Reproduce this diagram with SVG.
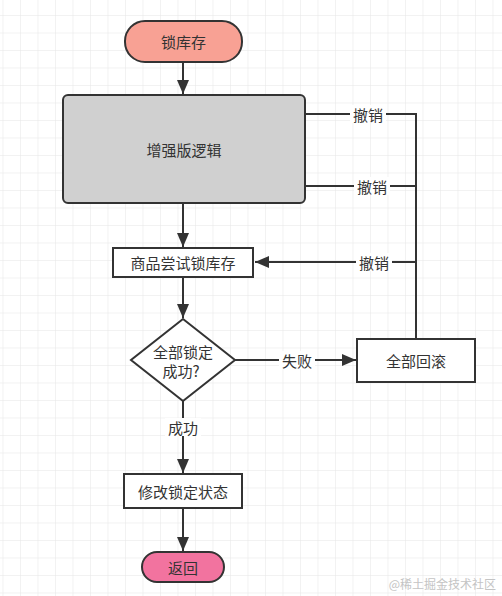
<svg xmlns="http://www.w3.org/2000/svg" width="502" height="596" viewBox="0 0 502 596">
<defs>
<pattern id="grid" patternUnits="userSpaceOnUse" x="2.5" y="15" width="17.5" height="17.5">
<path d="M0,0 H17.5 M0,0 V17.5" stroke="#e6e6e6" stroke-width="1" fill="none"/>
</pattern>
<marker id="arr" markerUnits="userSpaceOnUse" markerWidth="15" markerHeight="12" refX="14" refY="6" orient="auto">
<path d="M0,0 L14,6 L0,12 z" fill="#333"/>
</marker>
</defs>
<style>
.t{font-family:"Noto Sans CJK SC","Noto Sans",sans-serif;font-size:15px;fill:#333;text-anchor:middle;dominant-baseline:central}
.s{stroke:#333;stroke-width:2}
.c{fill:none;stroke:#333;stroke-width:2}
.bg{fill:#fff}
</style>
<rect width="502" height="596" fill="#fff"/>
<rect width="502" height="596" fill="url(#grid)"/>
<g id="connectors">
<path class="c" d="M183,62 V94" marker-end="url(#arr)"/>
<path class="c" d="M183,203 V247" marker-end="url(#arr)"/>
<path class="c" d="M183,277 V318" marker-end="url(#arr)"/>
<path class="c" d="M305,114 H416 V339"/>
<path class="c" d="M305,186 H416"/>
<path class="c" d="M416,262 H255" marker-end="url(#arr)"/>
<path class="c" d="M235,360 H356" marker-end="url(#arr)"/>
<path class="c" d="M183,401 V473" marker-end="url(#arr)"/>
<path class="c" d="M183,508 V551" marker-end="url(#arr)"/>
<rect class="bg" x="350" y="105" width="36" height="18"/>
<text class="t" x="368" y="114">撤销</text>
<rect class="bg" x="354" y="177" width="36" height="18"/>
<text class="t" x="372" y="186">撤销</text>
<rect class="bg" x="356" y="253" width="36" height="18"/>
<text class="t" x="374" y="262">撤销</text>
<rect class="bg" x="279" y="351" width="36" height="18"/>
<text class="t" x="297" y="360">失败</text>
<rect class="bg" x="165" y="418" width="36" height="18"/>
<text class="t" x="183" y="427">成功</text>
</g>
<g id="n-lock">
<rect x="125" y="21" width="117" height="41" rx="20" fill="#f8a194" class="s"/>
<text class="t" x="183.5" y="41.5">锁库存</text>
</g>
<g id="n-enhanced">
<rect x="63" y="95" width="242" height="108" rx="5" fill="#d0d0d0" class="s"/>
<text class="t" x="184" y="149">增强版逻辑</text>
</g>
<g id="n-try">
<rect x="113" y="248" width="140" height="29" fill="#fff" class="s"/>
<text class="t" x="183" y="262.5">商品尝试锁库存</text>
</g>
<g id="n-check">
<path d="M183,319 L235,360 L183,401 L131,360 z" fill="#fff" class="s"/>
<text class="t" x="183" y="351">全部锁定</text>
<text class="t" x="181" y="370">成功?</text>
</g>
<g id="n-rollback">
<rect x="357" y="339" width="118" height="43" fill="#fff" class="s"/>
<text class="t" x="416" y="360.5">全部回滚</text>
</g>
<g id="n-update">
<rect x="124" y="474" width="118" height="34" fill="#fff" class="s"/>
<text class="t" x="183" y="491">修改锁定状态</text>
</g>
<g id="n-return">
<rect x="142" y="552" width="82" height="30" rx="15" fill="#f2739f" class="s"/>
<text class="t" x="183" y="567">返回</text>
</g>
<text x="496" y="583" text-anchor="end" font-family="Noto Sans CJK SC,sans-serif" font-size="12" fill="#c4c4c4" dominant-baseline="central">@稀土掘金技术社区</text>
</svg>
